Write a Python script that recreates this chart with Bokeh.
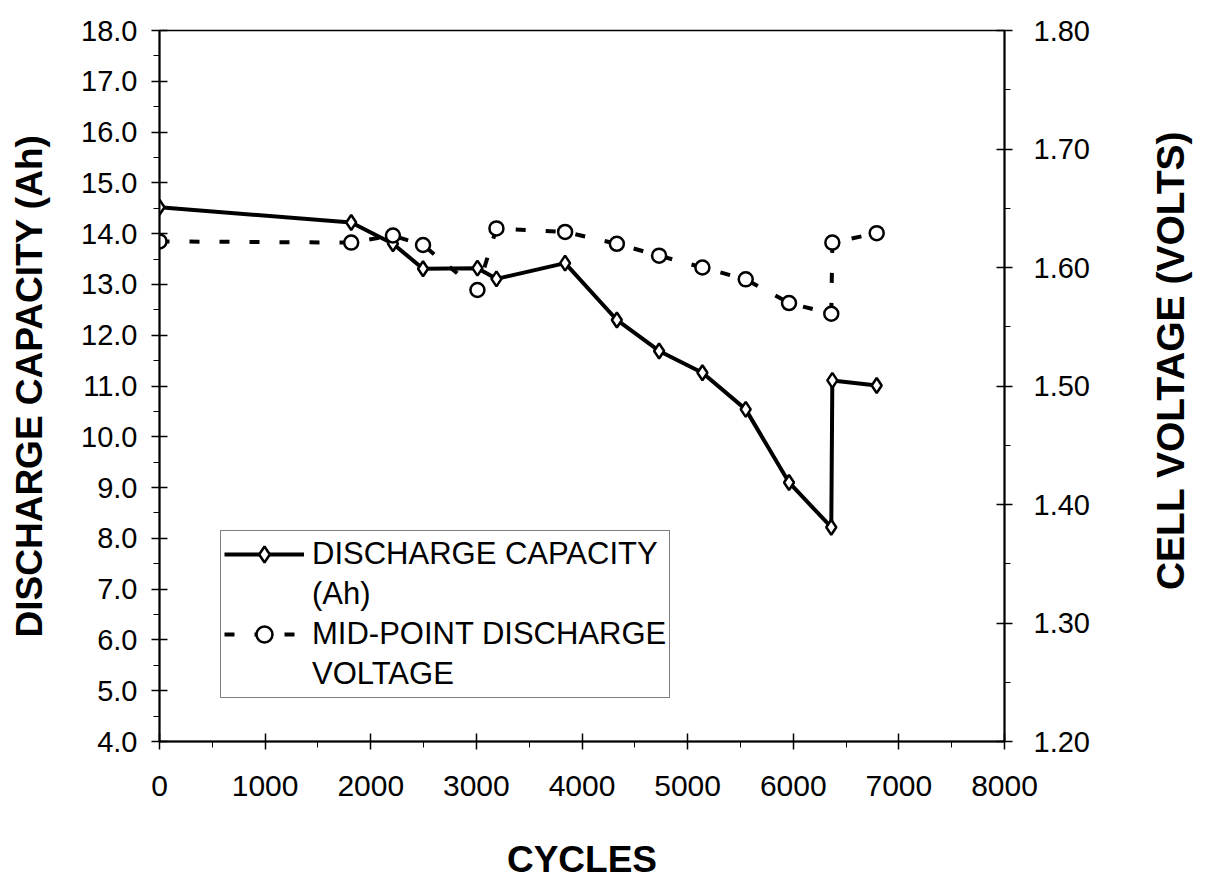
import math
from bokeh.plotting import figure
from bokeh.layouts import row
from bokeh.core.properties import value
from bokeh.models import Range1d, LinearAxis, Legend, LegendItem, FixedTicker, NumeralTickFormatter
from bokeh.embed import file_html
from bokeh.resources import INLINE

# ---- data ----
cycles = [0, 1815, 2210, 2495, 3010, 3190, 3840, 4330, 4730, 5140, 5550, 5960, 6360, 6370, 6790]
capacity_ah = [14.52, 14.22, 13.80, 13.31, 13.32, 13.11, 13.42, 12.30, 11.69, 11.26, 10.54, 9.10, 8.22, 11.11, 11.01]
midpoint_volts = [1.622, 1.621, 1.627, 1.619, 1.581, 1.633, 1.630, 1.620, 1.610, 1.600, 1.590, 1.570, 1.561, 1.621, 1.629]

x_ticks = [0, 1000, 2000, 3000, 4000, 5000, 6000, 7000, 8000]
x_minor = [500, 1500, 2500, 3500, 4500, 5500, 6500, 7500]
left_ticks = [4, 5, 6, 7, 8, 9, 10, 11, 12, 13, 14, 15, 16, 17, 18]
left_minor = [4.5, 5.5, 6.5, 7.5, 8.5, 9.5, 10.5, 11.5, 12.5, 13.5, 14.5, 15.5, 16.5, 17.5]
right_ticks = [1.2, 1.3, 1.4, 1.5, 1.6, 1.7, 1.8]
right_minor = [1.25, 1.35, 1.45, 1.55, 1.65, 1.75]
right_title = "CELL VOLTAGE (VOLTS)"

FONT = "Liberation Sans"

p = figure(width=1140, height=884, output_backend="svg", toolbar_location=None,
           x_range=Range1d(0, 8000), y_range=Range1d(4, 18),
           min_border_left=159, min_border_right=136, min_border_top=30, min_border_bottom=143)
p.extra_y_ranges = {"volt": Range1d(1.2, 1.8)}
p.grid.visible = False
p.outline_line_color = "black"
p.outline_line_width = 1.5
p.background_fill_color = "white"
p.border_fill_color = "white"

def style_axis(ax):
    ax.axis_line_color = "black"
    ax.axis_line_width = 2
    ax.major_tick_line_color = "black"
    ax.major_tick_line_width = 1.5
    ax.minor_tick_line_color = "black"
    ax.minor_tick_line_width = 1
    ax.major_tick_in = 8
    ax.major_tick_out = 8
    ax.minor_tick_in = 0
    ax.minor_tick_out = 6
    ax.major_label_text_font = FONT
    ax.major_label_text_font_size = "29px"
    ax.major_label_text_color = "black"
    ax.axis_label_text_font = FONT
    ax.axis_label_text_font_style = "bold"
    ax.axis_label_text_font_size = "37px"
    ax.axis_label_text_color = "black"

xa = p.xaxis[0]
xa.ticker = FixedTicker(ticks=x_ticks, minor_ticks=x_minor)
xa.formatter = NumeralTickFormatter(format="0")
xa.axis_label = "CYCLES"
style_axis(xa)
xa.major_label_text_font_size = "30px"
xa.major_label_standoff = 26
xa.axis_label_standoff = 40
xa.axis_label_text_line_height = 0.8

ya = p.yaxis[0]
ya.ticker = FixedTicker(ticks=left_ticks, minor_ticks=left_minor)
ya.formatter = NumeralTickFormatter(format="0.0")
ya.axis_label = "DISCHARGE CAPACITY (Ah)"
style_axis(ya)
ya.major_label_standoff = 14
ya.axis_label_standoff = 28

ra = LinearAxis(y_range_name="volt")
ra.ticker = FixedTicker(ticks=right_ticks, minor_ticks=right_minor)
ra.formatter = NumeralTickFormatter(format="0.00")
style_axis(ra)
ra.major_label_standoff = 21
p.add_layout(ra, "right")

# discharge capacity
cap_line = p.line(cycles, capacity_ah, line_color="black", line_width=4)
cap_pts = p.scatter(cycles, capacity_ah, marker="diamond", size=15, fill_color="white",
                    line_color="black", line_width=2.5)

# mid-point voltage
v_line = p.line(cycles, midpoint_volts, y_range_name="volt", line_color="black",
                line_width=4, line_dash="10 20")
v_pts = p.scatter(cycles, midpoint_volts, y_range_name="volt", marker="circle", size=14,
                  fill_color="white", line_color="black", line_width=2.5)

# invisible renderer used for the second line of each legend label
blank = p.line(x=[], y=[], line_alpha=0)

legend = Legend(items=[
    LegendItem(label="DISCHARGE CAPACITY", renderers=[cap_line, cap_pts]),
    LegendItem(label="(Ah)", renderers=[blank]),
    LegendItem(label="MID-POINT DISCHARGE", renderers=[v_line, v_pts]),
    LegendItem(label="VOLTAGE", renderers=[blank]),
], location=(61, 43))
legend.label_text_font = FONT
legend.label_text_font_size = "31px"
legend.label_text_color = "black"
legend.glyph_width = 80
legend.glyph_height = 40
legend.label_height = 40
legend.label_standoff = 8
legend.spacing = 0
legend.padding = 3
legend.margin = 0
legend.border_line_color = "black"
legend.border_line_width = 1.5
legend.background_fill_alpha = 1
p.add_layout(legend, "center")

# narrow side figure carrying the right-hand axis title (reads bottom to top)
p2 = figure(width=59, height=884, output_backend="svg", toolbar_location=None,
            x_range=Range1d(0, 1), y_range=Range1d(0, 1), min_border=0)
p2.axis.visible = False
p2.grid.visible = False
p2.outline_line_color = None
p2.border_fill_color = "white"
p2.text(x=[0.5], y=[0.536], text=[right_title], angle=math.pi / 2,
        text_font=value(FONT), text_font_style="bold", text_font_size="39px",
        text_color="black", text_align="center", text_baseline="middle")

layout = row(p, p2, spacing=0)
open("out.html", "w").write(file_html(layout, INLINE))
